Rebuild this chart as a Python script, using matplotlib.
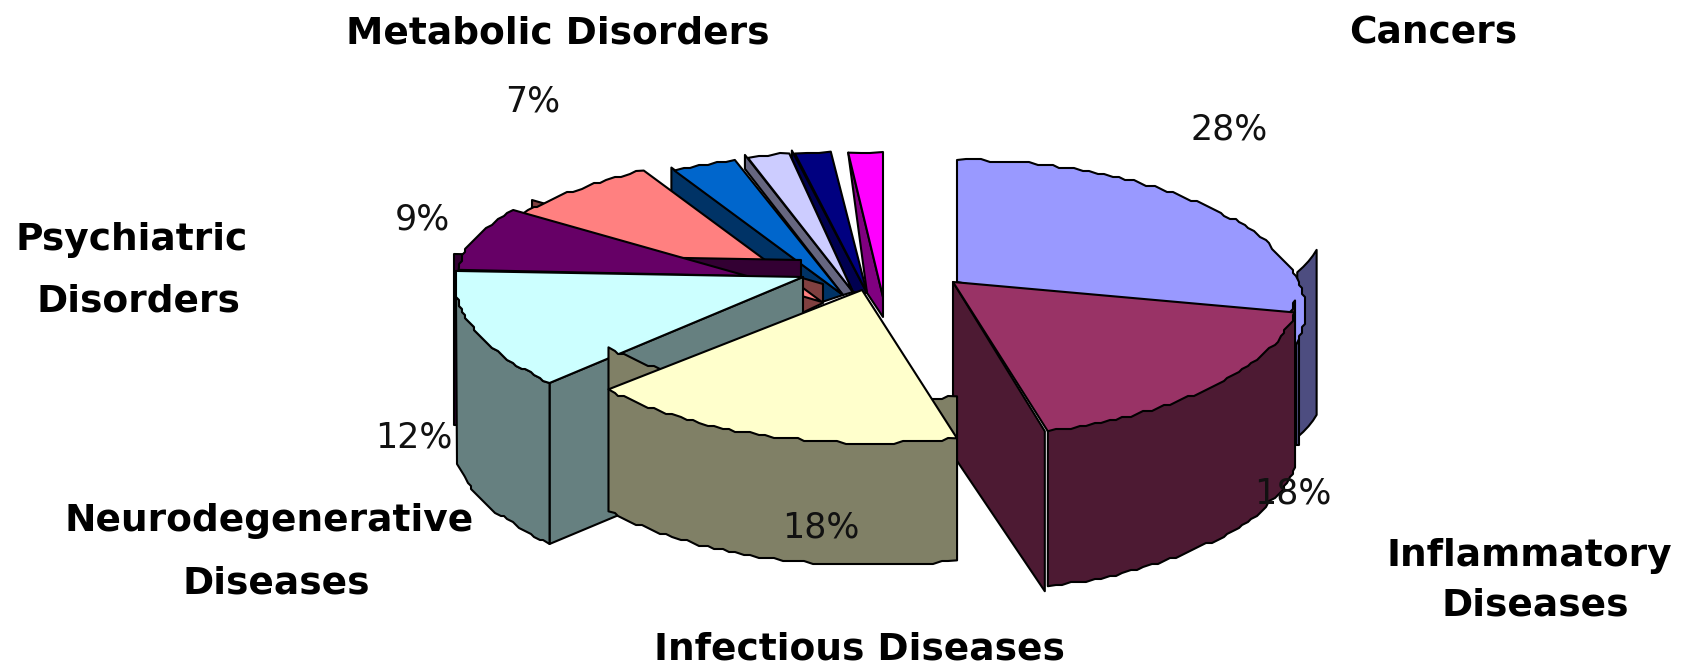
import numpy as np
import matplotlib
matplotlib.use('Agg')
import matplotlib.pyplot as plt
from matplotlib.patches import Polygon

# pie data, clockwise from 12 o'clock
shares = [28, 18, 18, 12, 9, 7, 3, 2, 1.5, 1.5]
pct_labels = ['28%', '18%', '18%', '12%', '9%', '7%']
top_colors = ['#9999FF', '#993366', '#FFFFCC', '#CCFFFF', '#660066',
              '#FF8080', '#0066CC', '#CCCCFF', '#000080', '#FF00FF']
wall_colors = ['#4D4D80', '#4D1A33', '#808066', '#668080', '#330033',
               '#804040', '#003366', '#666680', '#000050', '#800080']

# layout of the exploded slices, in image pixels
apex = [(957, 282), (953, 282), (862, 290), (803, 277), (747, 276),
        (822, 302), (843, 295), (853, 292), (867, 293), (883, 297)]
center = [(957, 312), (964, 284), (872, 295), (867, 281), (747, 277),
          (822, 302), (843, 295), (853, 292), (867, 293), (883, 297)]
rx = [348, 337, 342, 412, 289, 370, 350, 340, 385, 370]
ry = [152, 152, 148, 160, 114, 150, 142, 141, 142, 145]
depth = [165, 155, 122, 161, 0, 0, 0, 0, 0, 0]
lift = [0, 12, 42, 0, 0, 0, 0, 0, 0, 0]
fan_drop = {6: 23, 7: 11, 8: 5, 9: 0}
fan_tail = {6: 0, 7: 0, 8: 0, 9: 20}

pct_pos = [(1229, 129), (1293, 493), (821, 528), (414, 437), (422, 219), (533, 102)]
name_labels = [('Metabolic Disorders', 558, 33), ('Cancers', 1433, 33),
               ('Psychiatric', 132, 240), ('Disorders', 138, 301),
               ('Neurodegenerative', 269, 521), ('Diseases', 276, 583),
               ('Inflammatory', 1529, 556), ('Diseases', 1535, 606),
               ('Infectious Diseases', 859, 650)]

edges = np.concatenate([[0], np.cumsum(shares)]) * 360 / sum(shares)
LW = 1.5


def rim(i, a0=None, a1=None, shift=0):
    a0 = edges[i] if a0 is None else a0
    a1 = edges[i + 1] if a1 is None else a1
    n = max(3, int(abs(a1 - a0) * rx[i] / 450))
    t = np.radians(np.linspace(a0, a1, n))
    x = center[i][0] + rx[i] * np.sin(t)
    y = center[i][1] + shift + ry[i] * -np.cos(t)
    pts = np.column_stack([x, y])
    # the source picture has a stepped, low-res outline
    pts[1:-1] = np.round(pts[1:-1] / 3) * 3
    return pts


def poly(ax, pts, color):
    ax.add_patch(Polygon(np.asarray(pts), closed=True, facecolor=color,
                         edgecolor='black', linewidth=LW, joinstyle='round'))


def top_face(ax, i, a1=None):
    poly(ax, np.vstack([[apex[i]], rim(i, a1=a1)]), top_colors[i])


def rim_wall(ax, i, low_end=None, corner=None):
    up = rim(i, shift=-lift[i])
    down = rim(i, a1=low_end, shift=depth[i])
    if corner is not None:
        down = np.vstack([down, corner])
    poly(ax, np.vstack([up, down[::-1]]), wall_colors[i])


fig = plt.figure(figsize=(16.83, 6.66), dpi=100)
ax = fig.add_axes([0, 0, 1, 1])
ax.set_xlim(0, 1683)
ax.set_ylim(666, 0)
ax.axis('off')

# sliver of the cancers wall that sticks out on the right
t = np.radians(np.linspace(edges[1], edges[1] + 11, 5))
sx = 963 + 360 * np.sin(t)
sy = 227 - 122 * np.cos(t)
poly(ax, np.vstack([np.column_stack([sx, sy]),
                    np.column_stack([sx, sy + depth[0]])[::-1]]), wall_colors[0])
poly(ax, [(1296, 340), (1299, 340), (1299, 445), (1296, 445)], wall_colors[0])
top_face(ax, 0, a1=edges[1] + 2.5)

# inflammatory
end = rim(1)[-1]
poly(ax, [apex[1], (end[0] - 3, end[1]), (end[0] - 3, end[1] + 160),
          (apex[1][0], apex[1][1] + 173)], wall_colors[1])
rim_wall(ax, 1)
top_face(ax, 1)

# narrow slices at the back, right to left
for i in [9, 8, 7, 6]:
    left = rim(i)[0]
    nxt = apex[i - 1]
    off = 0 if i == 9 else 3
    poly(ax, [(left[0] - off, left[1] - off), (left[0] - off, left[1] + fan_drop[i]),
              nxt, (apex[i][0], apex[i][1] + fan_tail[i]), apex[i]], wall_colors[i])
    top_face(ax, i)

# metabolic
poly(ax, [(532, 200), (823, 284), (823, 303), (804, 312), (532, 240)], wall_colors[5])
top_face(ax, 5)

# psychiatric
poly(ax, [(454, 254), (801, 260), (801, 278), (700, 425), (454, 425)], wall_colors[4])
top_face(ax, 4)

# neurodegenerative
end = rim(3)[0]
poly(ax, [apex[3], end, (end[0], end[1] + depth[3]),
          (apex[3][0], apex[3][1] + depth[3])], wall_colors[3])
rim_wall(ax, 3, low_end=258, corner=[(457, 464)])
top_face(ax, 3)

# infectious
rim_wall(ax, 2)
top_face(ax, 2)

for lab, (x, y) in zip(pct_labels, pct_pos):
    ax.text(x, y, lab, ha='center', va='center', fontsize=25, color='#111111',
            family='DejaVu Sans')
for lab, x, y in name_labels:
    ax.text(x, y, lab, ha='center', va='center', fontsize=27, fontweight='bold',
            color='black', family='DejaVu Sans')

fig.savefig('out.png', dpi=100)
